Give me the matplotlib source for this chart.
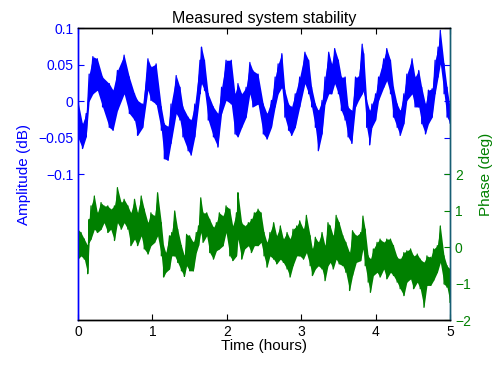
import matplotlib
matplotlib.use('Agg')
import matplotlib.pyplot as plt
import numpy as np

plt.rcParams.update({
    'font.family': ['Liberation Sans', 'DejaVu Sans'],
    'font.size': 10,
})

C_AMP = '#0000ff'
C_PHS = '#008000'

# amplitude (dB): sample times (hours) with upper / lower envelope of the noisy trace
amp_t = [0.00, 0.06, 0.11, 0.15, 0.20, 0.26, 0.33, 0.42, 0.47, 0.53, 0.62, 0.69, 0.76,
         0.80, 0.87, 0.94, 0.98, 1.05, 1.12, 1.16, 1.21, 1.25, 1.32, 1.37, 1.41, 1.48,
         1.52, 1.57, 1.64, 1.66, 1.70, 1.75, 1.82, 1.88, 1.93, 1.99, 2.06, 2.11, 2.15,
         2.20, 2.26, 2.31, 2.35, 2.42, 2.49, 2.54, 2.60, 2.65, 2.69, 2.74, 2.78, 2.83,
         2.87, 2.92, 2.98, 3.05, 3.10, 3.14, 3.19, 3.23, 3.28, 3.32, 3.37, 3.41, 3.45,
         3.50, 3.54, 3.59, 3.63, 3.68, 3.73, 3.77, 3.82, 3.84, 3.88, 3.92, 3.95, 4.00,
         4.04, 4.11, 4.15, 4.20, 4.24, 4.29, 4.33, 4.38, 4.42, 4.49, 4.53, 4.58, 4.62,
         4.67, 4.71, 4.76, 4.80, 4.84, 4.87, 4.92, 4.96, 5.00]
amp_hi = [0.000, -0.031, -0.017, 0.037, 0.061, 0.058, 0.033, 0.024, 0.015, 0.042, 0.063,
          0.033, 0.010, 0.001, -0.004, 0.058, 0.047, 0.051, -0.008, -0.031, -0.035, -0.004,
          0.035, 0.019, -0.008, -0.022, -0.026, -0.004, 0.056, 0.074, 0.056, 0.010, -0.008,
          -0.017, 0.019, 0.056, 0.056, 0.010, 0.024, 0.010, 0.019, 0.053, 0.042, 0.037,
          -0.004, -0.017, 0.001, 0.033, 0.051, 0.065, 0.015, -0.004, -0.008, 0.010, 0.033,
          0.067, 0.056, 0.019, -0.004, -0.013, 0.001, 0.033, 0.067, 0.051, 0.072, 0.056,
          0.033, 0.033, -0.008, -0.013, 0.033, 0.033, 0.078, 0.065, 0.001, -0.013, -0.004,
          0.010, 0.033, 0.058, 0.072, 0.056, 0.019, -0.004, -0.013, 0.010, 0.037, 0.058,
          0.033, 0.042, 0.019, -0.004, 0.015, 0.017, 0.056, 0.074, 0.097, 0.051, 0.019,
          -0.008]
amp_lo = [-0.050, -0.065, -0.049, 0.000, 0.010, 0.015, -0.008, -0.036, -0.040, -0.013,
          0.010, -0.017, -0.026, -0.047, -0.036, 0.015, 0.001, -0.004, -0.040, -0.079,
          -0.081, -0.058, -0.017, -0.026, -0.049, -0.068, -0.074, -0.049, 0.010, 0.024,
          0.015, -0.026, -0.049, -0.063, -0.017, 0.001, -0.004, -0.045, -0.049, -0.036,
          -0.022, 0.010, -0.008, -0.004, -0.045, -0.052, -0.036, -0.008, 0.010, 0.019,
          -0.022, -0.040, -0.047, -0.036, -0.008, 0.024, 0.010, -0.008, -0.036, -0.068,
          -0.045, -0.004, 0.010, 0.010, 0.024, 0.010, -0.013, -0.026, -0.049, -0.058,
          -0.008, 0.001, 0.010, 0.015, -0.036, -0.060, -0.036, -0.026, 0.001, 0.019, 0.028,
          0.010, -0.022, -0.036, -0.047, -0.031, 0.001, 0.010, -0.008, -0.008, -0.031,
          -0.045, -0.031, -0.022, 0.010, 0.033, 0.051, 0.010, -0.022, -0.030]

# phase (deg)
phs_t = [0.00, 0.04, 0.085, 0.13, 0.15, 0.175, 0.22, 0.26, 0.31, 0.35, 0.40, 0.44, 0.49,
         0.53, 0.58, 0.62, 0.67, 0.71, 0.76, 0.80, 0.85, 0.89, 0.94, 0.98, 1.03, 1.07,
         1.12, 1.15, 1.18, 1.23, 1.26, 1.30, 1.34, 1.39, 1.43, 1.46, 1.50, 1.55, 1.59,
         1.62, 1.65, 1.68, 1.73, 1.77, 1.82, 1.86, 1.90, 1.95, 1.99, 2.04, 2.08, 2.13,
         2.15, 2.20, 2.24, 2.29, 2.33, 2.37, 2.42, 2.46, 2.50, 2.54, 2.58, 2.63, 2.67,
         2.72, 2.76, 2.81, 2.85, 2.89, 2.94, 2.98, 3.03, 3.07, 3.12, 3.15, 3.19, 3.23,
         3.28, 3.32, 3.36, 3.39, 3.43, 3.47, 3.51, 3.56, 3.60, 3.65, 3.69, 3.74, 3.80,
         3.83, 3.86, 3.90, 3.93, 3.97, 4.02, 4.06, 4.11, 4.15, 4.20, 4.24, 4.29, 4.33,
         4.38, 4.42, 4.47, 4.51, 4.56, 4.60, 4.65, 4.69, 4.74, 4.78, 4.83, 4.87, 4.92,
         4.96, 5.00]
phs_hi = [0.49, 0.40, 0.22, 0.04, 0.76, 1.13, 1.40, 0.94, 1.22, 1.13, 1.13, 1.04, 1.13,
          1.63, 1.22, 1.31, 1.13, 0.94, 1.31, 0.94, 1.40, 1.04, 0.67, 0.94, 0.85, 1.49,
          0.67, 0.04, -0.15, 0.31, 0.40, 0.99, 0.49, 0.04, -0.24, 0.35, 0.31, 0.13, 0.40,
          0.58, 1.35, 0.94, 0.94, 0.76, 0.54, 0.67, 0.94, 0.85, 1.13, 1.04, 0.58, 0.94,
          1.49, 0.67, 0.58, 0.67, 0.76, 0.94, 1.04, 0.94, 0.40, 0.13, 0.40, 0.67, 0.31,
          0.58, 0.22, 0.40, 0.22, 0.49, 0.58, 0.72, 0.49, 0.87, 0.31, -0.05, 0.27, 0.13,
          0.40, 0.04, 0.67, 0.58, 0.31, 0.87, 0.67, 0.31, 0.13, -0.15, 0.45, 0.31, 0.40,
          0.85, 0.49, -0.24, -0.33, -0.05, 0.13, 0.22, 0.13, 0.22, 0.22, 0.04, -0.28,
          -0.33, -0.15, -0.10, -0.05, -0.24, -0.19, -0.33, -0.42, -0.24, -0.28, -0.05,
          0.04, 0.58, -0.24, -0.51, -0.60]
phs_lo = [-0.33, -0.24, -0.33, -0.73, 0.13, 0.22, 0.49, 0.40, 0.49, 0.67, 0.40, 0.49,
          0.18, 0.67, 0.49, 0.67, 0.49, 0.04, 0.22, 0.04, 0.31, -0.05, -0.19, 0.04, 0.13,
          0.31, -0.24, -0.82, -0.69, -0.60, -0.24, -0.24, -0.42, -0.65, -0.80, -0.51,
          -0.65, -0.65, -0.15, 0.04, 0.40, 0.13, 0.31, -0.15, -0.33, -0.10, -0.05, 0.04,
          0.40, -0.24, -0.37, -0.24, 0.22, -0.33, -0.05, 0.04, -0.15, 0.04, 0.04, 0.13,
          -0.24, -0.55, -0.24, -0.33, -0.46, -0.33, -0.42, -0.60, -0.82, -0.51, -0.24,
          -0.24, -0.33, -0.15, -0.51, -0.78, -0.60, -0.51, -0.60, -0.92, -0.51, -0.42,
          -0.60, -0.33, -0.46, -0.51, -0.69, -1.19, -0.78, -0.42, -0.37, -0.05, -0.51,
          -0.96, -1.24, -0.78, -0.69, -0.82, -0.60, -0.87, -0.69, -0.78, -0.96, -1.14,
          -1.33, -0.96, -0.87, -1.14, -0.96, -1.14, -1.65, -1.05, -1.05, -0.91, -0.69,
          -0.42, -1.01, -1.10, -1.51]


def draw_band(ax, t, hi, lo, color):
    # dense noisy trace: solid band between the envelopes plus a zigzag through them
    ax.fill_between(t, lo, hi, color=color, linewidth=0)
    x = np.repeat(np.asarray(t, float), 2)
    y = np.column_stack([hi, lo]).ravel()
    ax.plot(x, y, color=color, linewidth=0.9)


fig = plt.figure(figsize=(5.0, 3.65), dpi=100)
ax1 = fig.add_axes([0.156, 0.123, 0.744, 0.8])
ax2 = ax1.twinx()

draw_band(ax1, amp_t, amp_hi, amp_lo, C_AMP)
draw_band(ax2, phs_t, phs_hi, phs_lo, C_PHS)

ax1.set_xlim(0, 5)
ax1.set_ylim(-0.3, 0.1)
ax1.set_yticks([-0.1, -0.05, 0, 0.05, 0.1])
ax1.set_yticklabels(['\u22120.1', '\u22120.05', '0', '0.05', '0.1'])
ax2.set_ylim(-2, 6)
ax2.set_yticks([-2, -1, 0, 1, 2])
ax2.set_yticklabels(['\u22122', '\u22121', '0', '1', '2'])
ax1.set_xticks([0, 1, 2, 3, 4, 5])

ax1.tick_params(axis='y', colors=C_AMP, direction='in', length=4, right=True,
                labelsize=10)
ax1.tick_params(axis='x', direction='in', length=4, top=True, labelsize=10)
ax2.tick_params(axis='y', colors=C_PHS, direction='in', length=4, labelsize=10)

for a in (ax1, ax2):
    a.spines['left'].set_color(C_AMP)
    a.spines['right'].set_color('#175e74')
    a.spines['top'].set_color('black')
    a.spines['bottom'].set_color('black')
    for s in a.spines.values():
        s.set_linewidth(1.0)

ax1.set_ylabel('Amplitude (dB)', color=C_AMP, fontsize=11, labelpad=5)
ax2.set_ylabel('Phase (deg)', color=C_PHS, fontsize=11, labelpad=6)
ax1.set_xlabel('Time (hours)', fontsize=11, labelpad=0)
ax1.set_title('Measured system stability', fontsize=11.5, pad=4)

fig.savefig('out.png', dpi=100)
